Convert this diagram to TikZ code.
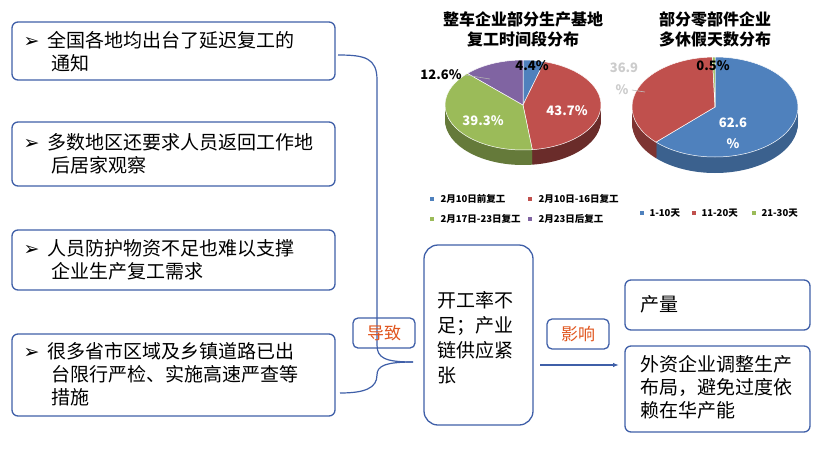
\documentclass[tikz,border=0pt]{standalone}
\usepackage{fontspec}
\usetikzlibrary{arrows.meta}
\setmainfont{Noto Sans CJK SC}
\newfontfamily\dej{DejaVu Sans}
\definecolor{bb}{HTML}{3F5FA8}
\definecolor{pb}{HTML}{4F81BD}
\definecolor{pr}{HTML}{C0504D}
\definecolor{pg}{HTML}{9BBB59}
\definecolor{pp}{HTML}{8064A2}
\definecolor{org}{HTML}{E0561F}
\tikzset{
 lbox/.style={draw=bb,line width=1.3pt,rounded corners=6pt,anchor=north west,inner sep=0pt},
 ltxt/.style={anchor=north west,align=left,font=\fontsize{19}{23}\selectfont},
 tag/.style={draw=bb,line width=1.3pt,rounded corners=5pt,minimum width=62pt,minimum height=30pt,text=org,font=\fontsize{17}{20}\selectfont},
 ttl/.style={font=\fontsize{16}{20}\selectfont\bfseries,align=center},
 plab/.style={font=\fontsize{13}{15}\selectfont\bfseries},
 leg/.style={font=\fontsize{9.5}{11}\selectfont\bfseries,anchor=west}
}
\newcommand{\bul}{{\dej ➢}\ \ }
% \psec{cx}{cy}{rx}{ry}{a}{b}{color}
\newcommand{\psec}[7]{\fill[#7,draw=white,line width=0.5pt] (#1,#2) -- ++(#5:#3 and #4) arc[start angle=#5,end angle=#6,x radius=#3,y radius=#4] -- cycle;}
\newcommand{\psed}[7]{\fill[#7] (#1,#2) -- ++(#5:#3 and #4) arc[start angle=#5,end angle=#6,x radius=#3,y radius=#4] -- cycle;}
\begin{document}
\begin{tikzpicture}[x=1pt,y=-1pt]
\useasboundingbox (0,0) rectangle (820,453);
% left boxes
\draw[lbox] (12,22) rectangle (335,80);
\node[ltxt] (t1) at (20,28) {\bul 全国各地均出台了延迟复工的\\\hspace*{28pt}通知};
\draw[lbox] (12,122) rectangle (335,186);
\node[ltxt] (t2) at (20,130) {\bul 多数地区还要求人员返回工作地\\\hspace*{28pt}后居家观察};
\draw[lbox] (12,230) rectangle (335,290);
\node[ltxt] (t3) at (20,236) {\bul 人员防护物资不足也难以支撑\\\hspace*{28pt}企业生产复工需求};
\draw[lbox] (12,334) rectangle (335,416);
\node[ltxt] (t4) at (20,339) {\bul 很多省市区域及乡镇道路已出\\\hspace*{28pt}台限行严检、实施高速严查等\\\hspace*{28pt}措施};
% brace
\coordinate (bt) at (338,55);
\coordinate (tip) at (413,362);
\coordinate (bb2) at (340,393);
\draw[bb,line width=1.2pt] (bt) .. controls (365,55) and (377,58) .. (377,80) -- (377,345) .. controls (377,358) and (385,362) .. (tip);
\draw[bb,line width=1.2pt] (tip) .. controls (385,362) and (377,366) .. (377,375) .. controls (377,388) and (365,393) .. (bb2);
% middle
\node[draw=bb,line width=1.3pt,rounded corners=14pt,minimum width=109pt,minimum height=180pt] (mid) at (478.5,335) {};
\node[align=left,anchor=north west,font=\fontsize{19}{25}\selectfont] (midt) at (434,288) {开工率不\\足；产业\\链供应紧\\张};
\node[tag] (dz) at (384,333) {导致};
\node[tag] (yx) at (578,334) {影响};
\coordinate (as) at (540,365);
\coordinate (ae) at (619,365);
\draw[bb,line width=1.2pt,-{Latex[length=6pt]}] (as) -- (ae);
\draw[lbox] (625,280) rectangle (810,330);
\node[ltxt] (r1) at (637,292) {产量};
\draw[lbox] (625,346) rectangle (810,432);
\node[ltxt] (r2) at (637,352) {外资企业调整生产\\布局，避免过度依\\赖在华产能};
% titles
\node[ttl] (tl) at (523,29) {整车企业部分生产基地\\复工时间段分布};
\node[ttl] (tr) at (715,29) {部分零部件企业\\多休假天数分布};
% left pie 3D
\foreach \d in {15,14,...,1}{
 \psed{523}{105+\d}{78}{45}{-90}{-74.16}{pb!60!black}
 \psed{523}{105+\d}{78}{45}{-74.16}{83.16}{pr!55!black}
 \psed{523}{105+\d}{78}{45}{83.16}{224.64}{pg!65!black}
 \psed{523}{105+\d}{78}{45}{224.64}{270}{pp!60!black}
}
\psec{523}{105}{78}{45}{-90}{-74.16}{pb}
\psec{523}{105}{78}{45}{-74.16}{83.16}{pr}
\psec{523}{105}{78}{45}{83.16}{224.64}{pg}
\psec{523}{105}{78}{45}{224.64}{270}{pp}
% right pie 3D
\foreach \d in {16,15,...,1}{
 \psed{715}{107+\d}{83}{50}{-90}{135.36}{pb!75!black}
 \psed{715}{107+\d}{83}{50}{135.36}{268.2}{pr!65!black}
 \psed{715}{107+\d}{83}{50}{268.2}{270}{pg!60!black}
}
\psec{715}{107}{83}{50}{-90}{135.36}{pb}
\psec{715}{107}{83}{50}{135.36}{268.2}{pr}
\psec{715}{107}{83}{50}{268.2}{270}{pg}
% pie labels
\node[plab] (l44) at (532,66) {4.4\%};
\node[plab,white] (l437) at (567,111) {43.7\%};
\node[plab,white] (l393) at (483,121) {39.3\%};
\node[plab] (l126) at (441,75) {12.6\%};
\coordinate (lp) at (490,79);
\draw[gray!60,line width=0.6pt] (l126.east) -- (lp);
\node[plab] (l369) at (624,68) {\textcolor{gray!40}{36.9}};
\node[plab] (l369b) at (622,90) {\textcolor{gray!40}{\%}};
\coordinate (rp) at (645,92);
\draw[gray!50,line width=0.6pt] (l369b.east) -- (rp);
\node[plab] (l05) at (713,66) {0.5\%};
\node[plab,white] (l626) at (733,123) {62.6};
\node[plab,white] (l626b) at (733,144) {\%};
% legends
\fill[pb] (430,197) rectangle (434,201); \node[leg] (g1) at (437,199) {2月10日前复工};
\fill[pr] (528,197) rectangle (532,201); \node[leg] (g2) at (535,199) {2月10日-16日复工};
\fill[pg] (430,217) rectangle (434,221); \node[leg] (g3) at (437,219) {2月17日-23日复工};
\fill[pp] (528,217) rectangle (532,221); \node[leg] (g4) at (535,219) {2月23日后复工};
\fill[pb] (640,211) rectangle (644,215); \node[leg] (h1) at (646,213) {1-10天};
\fill[pr] (692,211) rectangle (696,215); \node[leg] (h2) at (698,213) {11-20天};
\fill[pg] (752,211) rectangle (756,215); \node[leg] (h3) at (758,213) {21-30天};
\end{tikzpicture}
\end{document}
